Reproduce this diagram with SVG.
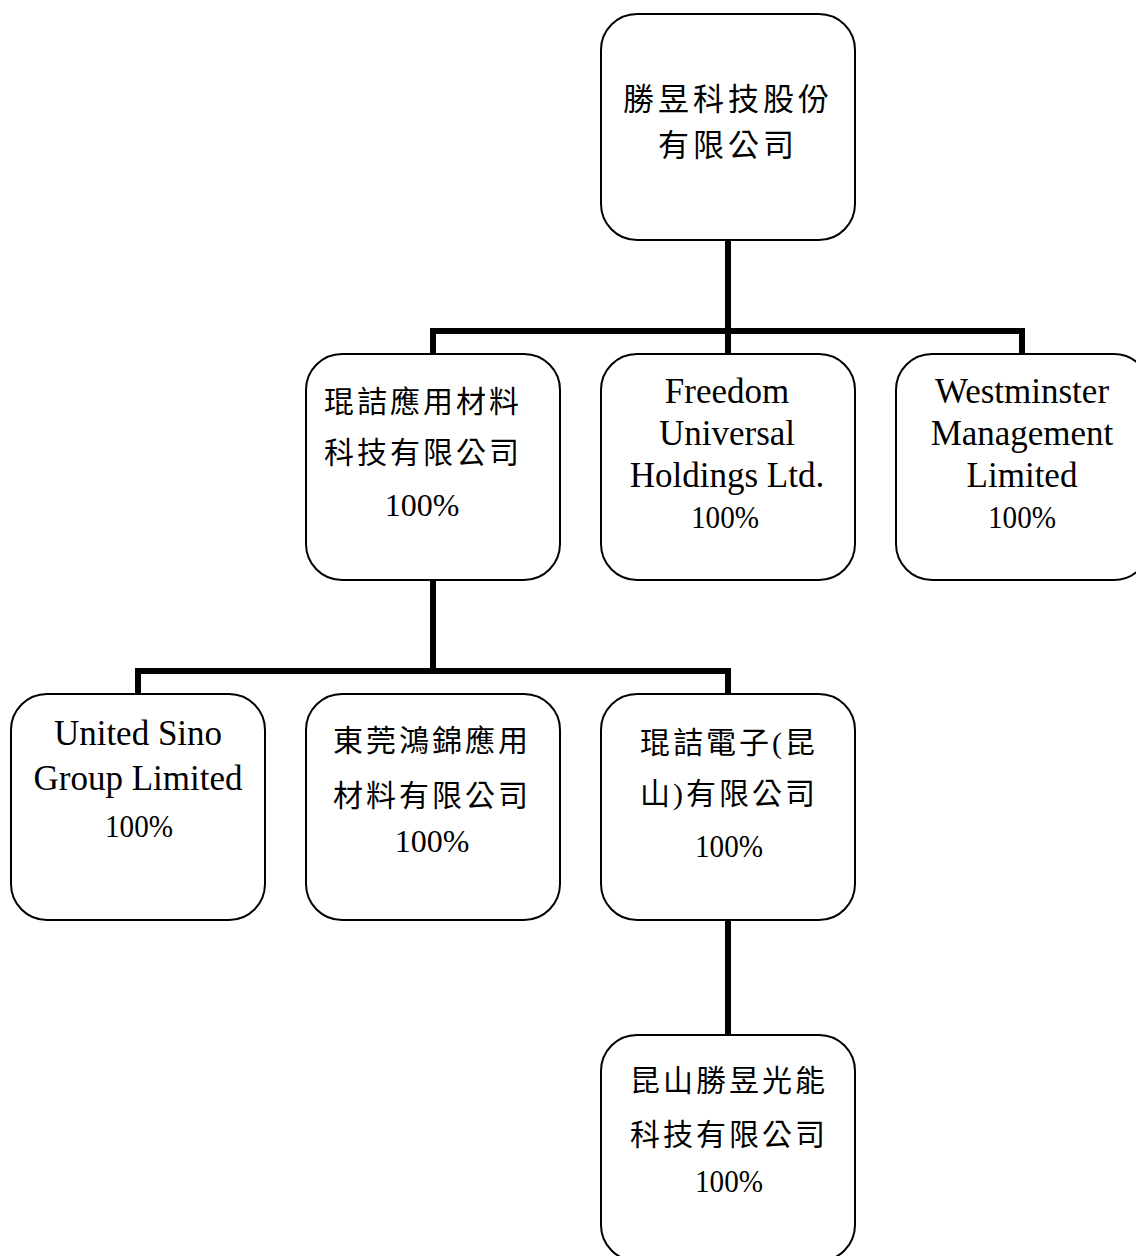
<svg xmlns="http://www.w3.org/2000/svg" width="1136" height="1256" viewBox="0 0 1136 1256">
<style>
.box{fill:#fff;stroke:#000;stroke-width:2}
.conn{fill:none;stroke:#000;stroke-width:6;stroke-linejoin:miter}
.cjk{font-family:"Liberation Serif","Noto Sans CJK TC",serif;font-size:30px;letter-spacing:3px;text-anchor:middle;fill:#000}
.cjkL{font-family:"Liberation Serif","Noto Sans CJK TC",serif;font-size:31px;letter-spacing:4px;text-anchor:middle;fill:#000}
.en{font-family:"Liberation Serif",serif;font-size:35px;text-anchor:middle;fill:#000}
.pct{font-family:"Liberation Serif",serif;font-size:32px;text-anchor:middle;fill:#000}
.pctw{font-family:"Liberation Serif",serif;font-size:32px;text-anchor:middle;fill:#000}
</style>
<rect width="1136" height="1256" fill="#fff"/>
<g id="connectors">
<line class="conn" x1="728" y1="240" x2="728" y2="331"/>
<polyline class="conn" points="433,354 433,331 1022,331 1022,354"/>
<line class="conn" x1="728" y1="331" x2="728" y2="354"/>
<line class="conn" x1="433" y1="580" x2="433" y2="671"/>
<polyline class="conn" points="138,694 138,671 728,671 728,694"/>
<line class="conn" x1="728" y1="920" x2="728" y2="1035"/>
</g>
<g id="n-top">
<rect class="box" x="601" y="14" width="254" height="226" rx="36"/>
<text class="cjkL" x="728" y="110">勝昱科技股份</text>
<text class="cjkL" x="728" y="156">有限公司</text>
</g>
<g id="n-kunjie">
<rect class="box" x="306" y="354" width="254" height="226" rx="36"/>
<text class="cjk" x="423" y="412">琨詰應用材料</text>
<text class="cjk" x="423" y="463">科技有限公司</text>
<text class="pctw" x="422" y="516">100%</text>
</g>
<g id="n-freedom">
<rect class="box" x="601" y="354" width="254" height="226" rx="36"/>
<text class="en" x="727" y="403">Freedom</text>
<text class="en" x="727" y="445">Universal</text>
<text class="en" x="727" y="487">Holdings Ltd.</text>
<text class="pct" x="725" y="528" textLength="68" lengthAdjust="spacingAndGlyphs">100%</text>
</g>
<g id="n-westminster">
<rect class="box" x="896" y="354" width="254" height="226" rx="36"/>
<text class="en" x="1022" y="403">Westminster</text>
<text class="en" x="1022" y="445">Management</text>
<text class="en" x="1022" y="487">Limited</text>
<text class="pct" x="1022" y="528" textLength="68" lengthAdjust="spacingAndGlyphs">100%</text>
</g>
<g id="n-unitedsino">
<rect class="box" x="11" y="694" width="254" height="226" rx="36"/>
<text class="en" x="138" y="745">United Sino</text>
<text class="en" x="138" y="790">Group Limited</text>
<text class="pct" x="139" y="837" textLength="68" lengthAdjust="spacingAndGlyphs">100%</text>
</g>
<g id="n-dongguan">
<rect class="box" x="306" y="694" width="254" height="226" rx="36"/>
<text class="cjk" x="432" y="751">東莞鴻錦應用</text>
<text class="cjk" x="432" y="806">材料有限公司</text>
<text class="pctw" x="432" y="852">100%</text>
</g>
<g id="n-kunjie-kunshan">
<rect class="box" x="601" y="694" width="254" height="226" rx="36"/>
<text class="cjk" x="729" y="753">琨詰電子(昆</text>
<text class="cjk" x="729" y="804">山)有限公司</text>
<text class="pct" x="729" y="857" textLength="68" lengthAdjust="spacingAndGlyphs">100%</text>
</g>
<g id="n-kunshan">
<rect class="box" x="601" y="1035" width="254" height="226" rx="36"/>
<text class="cjk" x="729" y="1091">昆山勝昱光能</text>
<text class="cjk" x="729" y="1145">科技有限公司</text>
<text class="pct" x="729" y="1192" textLength="68" lengthAdjust="spacingAndGlyphs">100%</text>
</g>
</svg>
